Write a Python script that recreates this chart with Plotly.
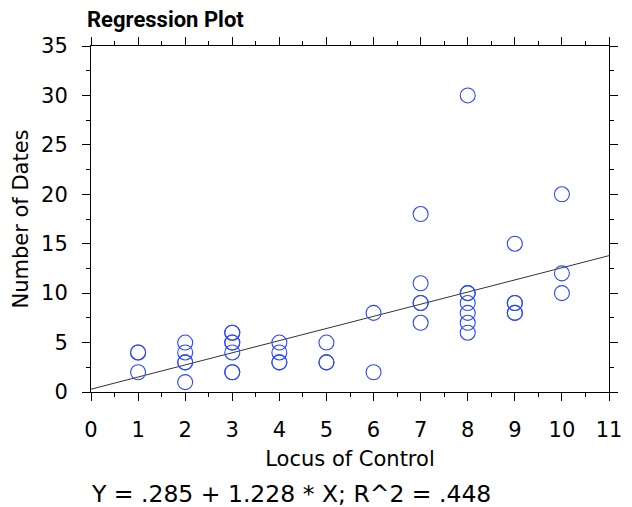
import plotly.graph_objects as go

# Data (duplicates appear as overlapping circles)
locus = [1, 1, 1,
         2, 2, 2, 2, 2,
         3, 3, 3, 3, 3, 3, 3,
         4, 4, 4, 4,
         5, 5, 5,
         6, 6,
         7, 7, 7, 7, 7,
         8, 8, 8, 8, 8, 8, 8,
         9, 9, 9, 9, 9,
         10, 10, 10]
dates = [4, 4, 2,
         5, 4, 3, 3, 1,
         6, 6, 5, 5, 4, 2, 2,
         5, 4, 3, 3,
         5, 3, 3,
         8, 2,
         18, 11, 9, 9, 7,
         30, 10, 10, 9, 8, 7, 6,
         15, 9, 9, 8, 8,
         20, 12, 10]
intercept = 0.285
slope = 1.228
r2 = 0.448
line_x = [0, 11]
line_y = [intercept + slope * v for v in line_x]

font_family = "DejaVu Sans"
fs = 21

fig = go.Figure()
fig.add_trace(go.Scatter(
    x=line_x, y=line_y, mode="lines",
    line=dict(color="#333333", width=1), showlegend=False, hoverinfo="skip"))
fig.add_trace(go.Scatter(
    x=locus, y=dates, mode="markers",
    marker=dict(symbol="circle-open", size=15, color="#2a48ff",
                line=dict(width=1.1, color="#2a48ff")),
    showlegend=False))

axis_common = dict(
    showgrid=False, zeroline=False, showline=True, linecolor="black", linewidth=1,
    mirror="ticks", ticks="outside", ticklen=8, tickcolor="black", tickwidth=1,
    tickfont=dict(family=font_family, size=fs, color="black"),
)

fig.update_xaxes(range=[0, 11], tickmode="linear", tick0=0, dtick=1,
                 minor=dict(dtick=0.5, ticklen=4, ticks="outside", tickcolor="black"),
                 title=dict(text="Locus of Control", font=dict(family=font_family, size=fs, color="black"), standoff=10),
                 ticklabelstandoff=11,
                 **axis_common)
fig.update_yaxes(range=[0, 35], tickmode="linear", tick0=0, dtick=5,
                 minor=dict(dtick=2.5, ticklen=4, ticks="outside", tickcolor="black"),
                 title=dict(text="Number of Dates", font=dict(family=font_family, size=fs, color="black"), standoff=6),
                 ticklabelstandoff=10,
                 **axis_common)

fig.add_annotation(text="<b>Regression Plot</b>", xref="paper", yref="paper",
                   x=-0.011, y=1.0, yshift=27, xanchor="left", yanchor="middle", showarrow=False,
                   font=dict(family="Roboto", size=22, color="black"))
fig.add_annotation(text=f"Y = .{int(round(intercept*1000)):03d} + {slope:.3f} * X; R^2 = .{int(round(r2*1000)):03d}",
                   xref="paper", yref="paper", x=-0.004, y=0, yshift=-102,
                   xanchor="left", yanchor="middle", showarrow=False,
                   font=dict(family=font_family, size=23.5, color="black"))

fig.update_layout(
    width=632, height=507,
    margin=dict(l=83, r=31, t=38, b=123),
    plot_bgcolor="white", paper_bgcolor="white",
)

fig.write_html("out.html")
